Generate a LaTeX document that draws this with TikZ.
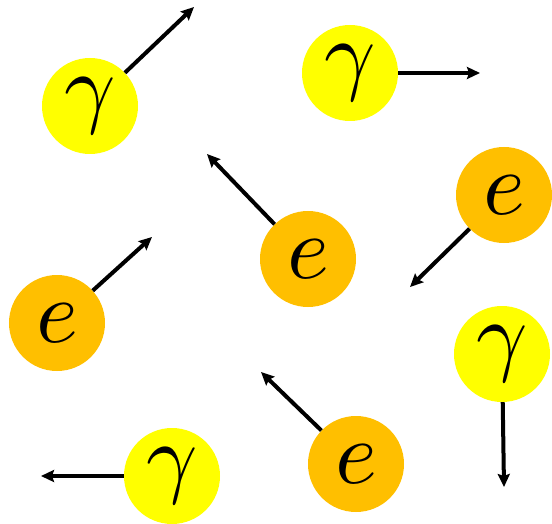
\documentclass[tikz,border=0pt]{standalone}
\usepackage{graphicx}
\usetikzlibrary{arrows.meta}
\definecolor{phot}{RGB}{255,255,0}
\definecolor{elec}{RGB}{255,191,0}
\newcommand{\bigsym}[1]{\scalebox{9}{$#1$}}
\tikzset{
  particle/.style={circle,minimum size=96bp,inner sep=0pt},
  photon/.style={particle,fill=phot},
  electron/.style={particle,fill=elec},
  arr/.style={line width=4bp,-{Stealth[length=13bp,width=12bp,inset=2bp]}}
}
\begin{document}
\begin{tikzpicture}[x=1bp,y=-1bp]
\useasboundingbox (0,0) rectangle (552,524);
\node[photon] (g1) at (90,106) {\bigsym{\gamma}};
\node[photon] (g2) at (350,73) {\bigsym{\gamma}};
\node[electron] (e1) at (504,195) {\bigsym{e}};
\node[electron] (e2) at (308,259) {\bigsym{e}};
\node[electron] (e3) at (57,323) {\bigsym{e}};
\node[photon] (g3) at (502,354) {\bigsym{\gamma}};
\node[electron] (e4) at (356,464) {\bigsym{e}};
\node[photon] (g4) at (172,476) {\bigsym{\gamma}};
\coordinate (t1) at (194,7);
\coordinate (t2) at (480,73);
\coordinate (t3) at (410,287);
\coordinate (t4) at (207,154);
\coordinate (t5) at (152,237);
\coordinate (t6) at (504,487);
\coordinate (t7) at (261,372);
\coordinate (t8) at (41,476);
\draw[arr] (g1) -- (t1);
\draw[arr] (g2) -- (t2);
\draw[arr] (e1) -- (t3);
\draw[arr] (e2) -- (t4);
\draw[arr] (e3) -- (t5);
\draw[arr] (g3) -- (t6);
\draw[arr] (e4) -- (t7);
\draw[arr] (g4) -- (t8);
\end{tikzpicture}
\end{document}
